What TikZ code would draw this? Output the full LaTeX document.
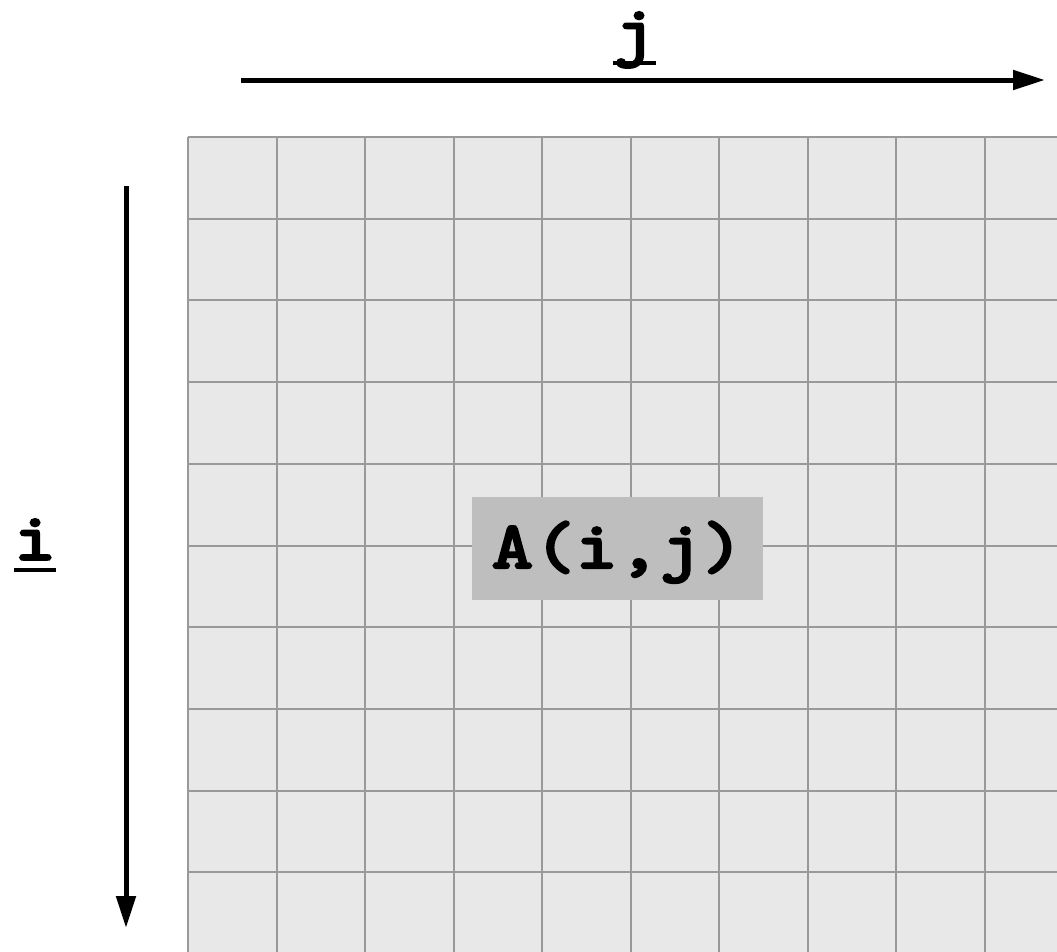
\documentclass[tikz,border=0pt]{standalone}
\usepackage{fontspec}
\usetikzlibrary{arrows.meta}
\newfontfamily\courfont{lmmonolt10-bold.otf}[FakeBold=2.5,FakeStretch=1.18]
\newcommand\myul[1]{\setbox0\hbox{#1}\rlap{\rule[-12pt]{\wd0}{4pt}}\box0}
\definecolor{cellfill}{HTML}{E8E8E8}
\definecolor{gridline}{HTML}{999999}
\definecolor{boxfill}{HTML}{BEBEBE}
\tikzset{
  bigfont/.style={font=\fontsize{68}{80}\selectfont\courfont},
  axis/.style={line width=5pt,-{Triangle[length=32pt,width=19pt]}},
  lbl/.style={bigfont,inner sep=0pt,anchor=base},
}
\begin{document}
\begin{tikzpicture}[x=1pt,y=-1pt]
\useasboundingbox (0,0) rectangle (1057,951);
\begin{scope}
\clip (0,0) rectangle (1057,951);
\fill[cellfill] (188,137) rectangle (1100,1000);
\foreach \k in {0,...,10} {
  \draw[gridline,line width=2pt] ({188+88.5*\k},137) -- ({188+88.5*\k},1000);
  \draw[gridline,line width=2pt] (188,{137+81.7*\k}) -- (1100,{137+81.7*\k});
}
\end{scope}
\node[bigfont,fill=boxfill,inner sep=0pt,minimum width=291pt,text height=71pt,text depth=32pt,anchor=north west] (A) at (472,497) {A(i,j)};
\coordinate (jstart) at (241,80);
\coordinate (jend) at (1045,80);
\coordinate (istart) at (126,186);
\coordinate (iend) at (126,928);
\draw[axis] (jstart) -- (jend);
\draw[axis] (istart) -- (iend);
\node[lbl] (jlbl) at (634.5,53) {\myul{j}};
\node[lbl] (ilbl) at (35,560) {\myul{i}};
\end{tikzpicture}
\end{document}
